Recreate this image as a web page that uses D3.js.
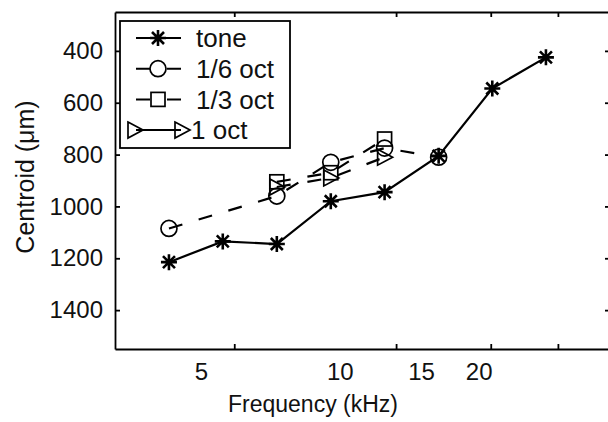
<!DOCTYPE html>
<html>
<head>
<meta charset="utf-8">
<script src="https://cdn.jsdelivr.net/npm/d3@7"></script>
<style>
  body { margin: 0; background: #fff; }
  svg { display: block; font-family: "Liberation Sans", Arial, sans-serif; }
  .axis path, .axis line { stroke: #000; stroke-width: 1.8; }
  .axis text { font-size: 24px; fill: #111; }
</style>
</head>
<body>
<svg id="drawing_region"></svg>
<script>
// frequencies (kHz), 1/3-octave steps
const toneFreq   = [3.78, 4.76, 6.0, 7.56, 9.52, 12.0, 15.1, 19.0];
const toneVal    = [1215, 1135, 1145, 980, 945, 805, 545, 425];

const sixthFreq  = [3.78, 6.0, 7.56, 9.52, 12.0];
const sixthVal   = [1085, 960, 830, 775, 810];

const thirdFreq  = [6.0, 7.56, 9.52];
const thirdVal   = [905, 870, 740];

const octFreq    = [6.0, 7.56, 9.52];
const octVal     = [925, 890, 810];

const xTicks = [5, 10, 15, 20];
const yTicks = [400, 600, 800, 1000, 1200, 1400];
const legendLabels = ['tone', '1/6 oct', '1/3 oct', '1 oct'];

const width  = 608;
const height = 422;
const margin = { top: 12, left: 115 };
const inner_width  = 495;
const inner_height = 337;

const svg = d3.select('#drawing_region')
    .attr('width', width)
    .attr('height', height);

const chart = svg.append('g')
    .attr('transform', `translate(${margin.left}, ${margin.top})`);

const xscale = d3.scaleLog()
    .domain([3, 25])
    .range([0, inner_width]);

// tick labels sit a bit left of their tick marks in the original figure
const xlabscale = d3.scaleLog()
    .domain([3, 25])
    .range([0.858 * margin.left - margin.left, 0.858 * (margin.left + inner_width) - margin.left]);

const yscale = d3.scaleLinear()
    .domain([250, 1550])
    .range([0, inner_height]);

// axes (box with inward ticks)
chart.append('g').attr('class', 'axis')
    .attr('transform', `translate(0, ${inner_height})`)
    .call(d3.axisBottom(xscale).tickValues(xTicks).tickSize(-5).tickSizeOuter(0).tickFormat(''));

chart.append('g').attr('class', 'axis')
    .call(d3.axisTop(xscale).tickValues(xTicks).tickSize(-5).tickSizeOuter(0).tickFormat(''));

const xlab = chart.append('g').attr('class', 'axis')
    .attr('transform', `translate(0, ${inner_height})`)
    .call(d3.axisBottom(xlabscale).tickValues(xTicks).tickSize(0).tickPadding(14).tickFormat(d3.format('d')));
xlab.select('.domain').remove();

chart.append('g').attr('class', 'axis')
    .call(d3.axisLeft(yscale).tickValues(yTicks).tickSize(-5).tickSizeOuter(0)
        .tickPadding(12).tickFormat(d3.format('d')));

chart.append('g').attr('class', 'axis')
    .attr('transform', `translate(${inner_width}, 0)`)
    .call(d3.axisRight(yscale).tickValues(yTicks).tickSize(-5).tickSizeOuter(0).tickFormat(''));

// markers
const starPath = 'M-8,0H8M0,-8V8M-6,-6L6,6M-6,6L6,-6';
const triPath  = 'M-7,-8L8,0L-7,8Z';

function drawSeries(fx, fy, dashed, marker) {
    const pts = fx.map((f, i) => ({ f: f, v: fy[i] }));
    const line = d3.line()
        .x(d => xscale(d.f))
        .y(d => yscale(d.v));

    chart.append('path')
        .datum(pts)
        .attr('d', line)
        .attr('fill', 'none')
        .attr('stroke', '#000')
        .attr('stroke-width', 2.2)
        .attr('stroke-dasharray', dashed ? '14,17' : null);

    const g = chart.selectAll(null)
        .data(pts)
        .enter()
        .append('g')
        .attr('transform', d => `translate(${xscale(d.f)}, ${yscale(d.v)})`);
    marker(g);
}

function star(g) {
    g.append('path').attr('d', starPath)
        .attr('stroke', '#000').attr('stroke-width', 2.6).attr('fill', 'none');
}
function circ(g) {
    g.append('circle').attr('r', 8)
        .attr('stroke', '#000').attr('stroke-width', 1.7).attr('fill', 'none');
}
function sq(g) {
    g.append('rect').attr('x', -7).attr('y', -7).attr('width', 14).attr('height', 14)
        .attr('stroke', '#000').attr('stroke-width', 1.7).attr('fill', 'none');
}
function tri(g) {
    g.append('path').attr('d', triPath)
        .attr('stroke', '#000').attr('stroke-width', 1.7).attr('fill', 'none');
}

drawSeries(toneFreq, toneVal, false, star);
drawSeries(sixthFreq, sixthVal, true, circ);
drawSeries(thirdFreq, thirdVal, true, sq);
drawSeries(octFreq, octVal, true, tri);

// legend
const legend = svg.append('g');
legend.append('rect')
    .attr('x', 120).attr('y', 21)
    .attr('width', 170).attr('height', 127)
    .attr('fill', '#fff').attr('stroke', '#000').attr('stroke-width', 1.8);

const markers = [star, circ, sq, tri];
legendLabels.forEach((lab, i) => {
    const yy = 38 + i * 30.7;
    const row = legend.append('g').attr('transform', `translate(0, ${yy})`);
    row.append('line')
        .attr('x1', 136).attr('x2', 181)
        .attr('stroke', '#000').attr('stroke-width', 2)
        .attr('stroke-dasharray', (i === 1 || i === 2) ? '14,17' : null);
    if (i === 3) {
        markers[i](row.append('g').attr('transform', 'translate(135, 0)'));
        markers[i](row.append('g').attr('transform', 'translate(182, 0)'));
    } else {
        markers[i](row.append('g').attr('transform', 'translate(158, 0)'));
    }
    row.append('text')
        .attr('x', i === 3 ? 191 : 196)
        .attr('y', 0)
        .attr('dy', '0.36em')
        .attr('font-size', '26px')
        .attr('fill', '#111')
        .text(lab);
});

// axis titles
svg.append('text')
    .attr('x', 313)
    .attr('y', 412)
    .attr('text-anchor', 'middle')
    .attr('font-size', '23px')
    .attr('fill', '#111')
    .text('Frequency (kHz)');

svg.append('text')
    .attr('transform', 'rotate(-90)')
    .attr('x', -177)
    .attr('y', 34)
    .attr('text-anchor', 'middle')
    .attr('font-size', '25px')
    .attr('fill', '#111')
    .text('Centroid (μm)');
</script>
</body>
</html>
